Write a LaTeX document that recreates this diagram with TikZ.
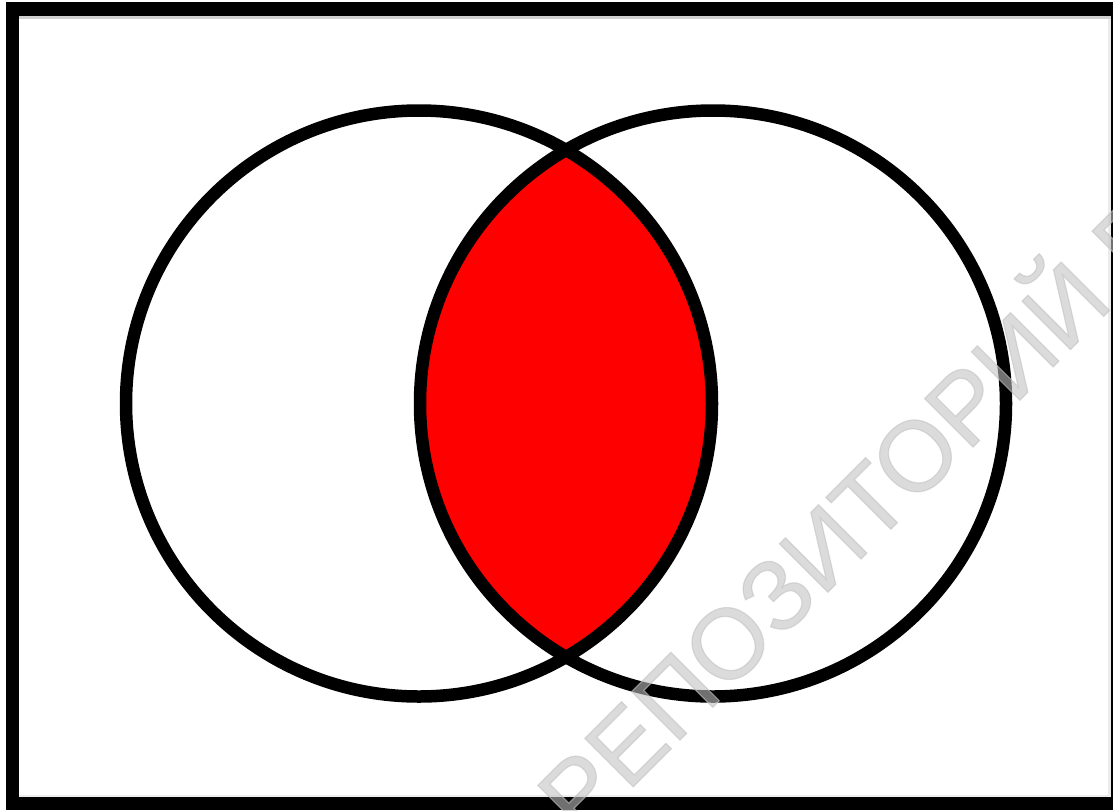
\documentclass[tikz,border=0pt]{standalone}
\usepackage{fontspec}
\usepackage{xcolor}
\usepackage{tikz}
\newfontfamily\wmfont[FakeBold=1.2]{Liberation Sans}
\definecolor{vred}{HTML}{FF0000}
\definecolor{vgray}{RGB}{194,194,194}
\definecolor{vedge}{HTML}{D0D0D0}
\tikzset{
  vring/.style={draw=black, line width=1.25mm},
  vlens/.style={fill=vred},
  vwmark/.style={text=vgray, text opacity=0.58, inner sep=0pt,
                 font=\wmfont\fontsize{28.3}{30}\selectfont},
}
\begin{document}
\begin{tikzpicture}[x=0.1mm, y=-0.1mm]

  \useasboundingbox (0,0) rectangle (1113,810);

  % moldura
  \fill[black] (6,2) rectangle (1113,810);
  \fill[white] (19,16) rectangle (1111,797);
  \fill[vedge] (19,16) rectangle (1111,19);
  \fill[black!8] (1108,19) rectangle (1111,797);
  \fill[black!7] (19,795) rectangle (1111,797);

  \coordinate (A) at (419,403.5);
  \coordinate (B) at (713,403.5);

  % interseção
  \begin{scope}
    \clip (A) circle (293);
    \fill[vlens] (B) circle (293);
  \end{scope}

  % conjuntos
  \draw[vring] (A) circle (293);
  \draw[vring] (B) circle (293);

  % marca d'água
  \begin{scope}
    \clip (0,0) rectangle (1113,810);
    \node[vwmark, rotate=45, anchor=base west] (wm) at (580,840)
      {РЕПОЗИТОРИЙ Б};
  \end{scope}

\end{tikzpicture}
\end{document}
